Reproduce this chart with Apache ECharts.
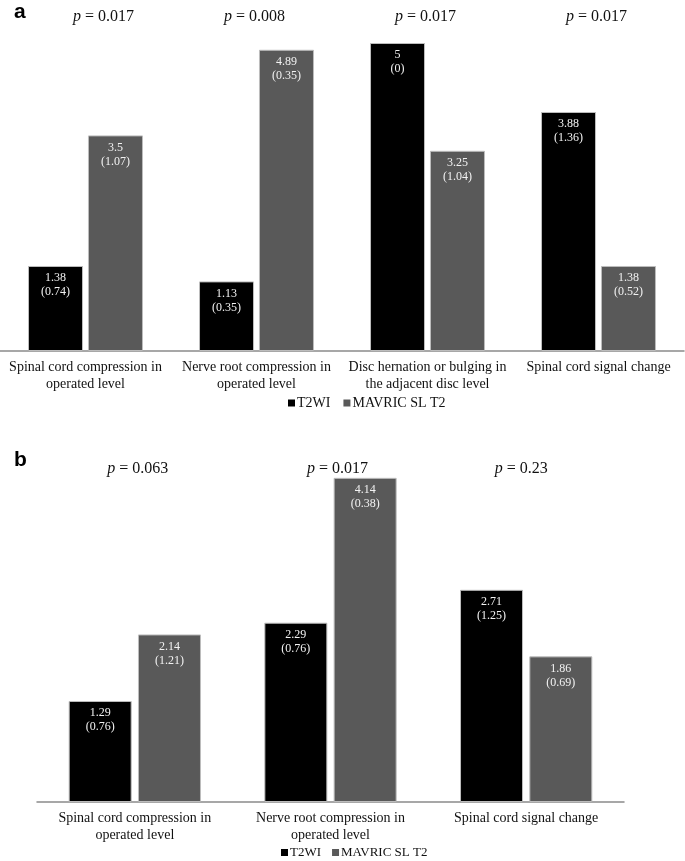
<!DOCTYPE html>
<html>
<head>
<meta charset="utf-8">
<script src="https://cdn.jsdelivr.net/npm/echarts@6/dist/echarts.min.js"></script>
<style>
html,body{margin:0;padding:0;background:#fff;}
#chart{width:685px;height:861px;}
</style>
</head>
<body>
<div id="chart"></div>
<script>
// ---- Data ----
const seriesNames = ['T2WI', 'MAVRIC SL T2'];

const categoriesA = ['Spinal cord compression in\noperated level', 'Nerve root compression in\noperated level', 'Disc hernation or bulging in\nthe adjacent disc level', 'Spinal cord signal change'];
const t2wiA = [1.38, 1.13, 5, 3.88];
const t2wiSdA = ['0.74', '0.35', '0', '1.36'];
const mavricA = [3.5, 4.89, 3.25, 1.38];
const mavricSdA = ['1.07', '0.35', '1.04', '0.52'];
const pValuesA = ['0.017', '0.008', '0.017', '0.017'];

const categoriesB = ['Spinal cord compression in\noperated level', 'Nerve root compression in\noperated level', 'Spinal cord signal change'];
const t2wiB = [1.29, 2.29, 2.71];
const t2wiSdB = ['0.76', '0.76', '1.25'];
const mavricB = [2.14, 4.14, 1.86];
const mavricSdB = ['1.21', '0.38', '0.69'];
const pValuesB = ['0.063', '0.017', '0.23'];

// ---- Chart ----
const SERIF = "'Liberation Serif', 'Times New Roman', serif";
const chart = echarts.init(document.getElementById('chart'), null, {renderer: 'canvas'});

function barLabel(sds) {
  return {
    show: true, position: 'insideTop', distance: 5,
    color: '#f2f2f2', fontFamily: SERIF, fontSize: 12, lineHeight: 14,
    formatter: p => p.value + '\n(' + sds[p.dataIndex] + ')'
  };
}
const axisLineStyle = {show: true, lineStyle: {color: '#8a8a8a', width: 1.5}};
const catLabel = {interval: 0, color: '#111', fontFamily: SERIF, fontSize: 14, lineHeight: 17, margin: 8};
const legendItemStyle = {borderWidth: 0};

const option = {
  animation: false,
  backgroundColor: '#fff',
  grid: [
    {left: 0, right: 1, top: 43, bottom: 510},
    {left: 37, right: 61, top: 410.5, bottom: 59}
  ],
  xAxis: [
    {type: 'category', gridIndex: 0, data: categoriesA, axisLine: axisLineStyle, axisTick: {show: false}, axisLabel: catLabel},
    {type: 'category', gridIndex: 1, data: categoriesB, axisLine: axisLineStyle, axisTick: {show: false}, axisLabel: catLabel}
  ],
  yAxis: [
    {type: 'value', gridIndex: 0, min: 0, max: 5, show: false, splitLine: {show: false}},
    {type: 'value', gridIndex: 1, min: 0, max: 5, show: false, splitLine: {show: false}}
  ],
  legend: [
    {data: seriesNames, left: 288, top: 396, padding: 0, itemWidth: 7, itemHeight: 7, itemGap: 13, icon: 'rect',
     itemStyle: legendItemStyle,
     textStyle: {fontFamily: SERIF, fontSize: 14, color: '#111', padding: [0, 0, 0, -3]}},
    {data: seriesNames, left: 281, top: 846, padding: 0, itemWidth: 7, itemHeight: 7, itemGap: 11, icon: 'rect',
     itemStyle: legendItemStyle,
     textStyle: {fontFamily: SERIF, fontSize: 13, color: '#111', padding: [0, 0, 0, -3]}}
  ],
  series: [
    {name: seriesNames[0], type: 'bar', xAxisIndex: 0, yAxisIndex: 0, data: t2wiA, barWidth: 55, barGap: '9%',
     itemStyle: {color: '#000', borderColor: '#bdbdbd', borderWidth: 1}, label: barLabel(t2wiSdA)},
    {name: seriesNames[1], type: 'bar', xAxisIndex: 0, yAxisIndex: 0, data: mavricA, barWidth: 55, barGap: '9%',
     itemStyle: {color: '#595959', borderColor: '#bdbdbd', borderWidth: 1}, label: barLabel(mavricSdA)},
    {name: seriesNames[0], type: 'bar', xAxisIndex: 1, yAxisIndex: 1, data: t2wiB, barWidth: 63, barGap: '10%',
     itemStyle: {color: '#000', borderColor: '#bdbdbd', borderWidth: 1}, label: barLabel(t2wiSdB)},
    {name: seriesNames[1], type: 'bar', xAxisIndex: 1, yAxisIndex: 1, data: mavricB, barWidth: 63, barGap: '10%',
     itemStyle: {color: '#595959', borderColor: '#bdbdbd', borderWidth: 1}, label: barLabel(mavricSdB)}
  ]
};
chart.setOption(option);

// p-value annotations and panel letters, positioned from the category axes
const graphics = [];
function pText(x, y, val) {
  return {
    type: 'text', x: x, y: y,
    style: {
      text: '{i|p}{r| = ' + val + '}',
      align: 'center', verticalAlign: 'middle',
      rich: {
        i: {fontFamily: SERIF, fontStyle: 'italic', fontSize: 16, fill: '#111'},
        r: {fontFamily: SERIF, fontSize: 16, fill: '#111'}
      }
    }
  };
}
const pShiftA = [18, -2, -2, -2];
const pShiftB = [3, 7, -5];
categoriesA.forEach((c, i) => {
  const x = chart.convertToPixel({xAxisIndex: 0}, c) + pShiftA[i];
  graphics.push(pText(x, 17, pValuesA[i]));
});
categoriesB.forEach((c, i) => {
  const x = chart.convertToPixel({xAxisIndex: 1}, c) + pShiftB[i];
  graphics.push(pText(x, 469, pValuesB[i]));
});
graphics.push({type: 'text', x: 14, y: 12, style: {text: 'a', fontFamily: "'Liberation Sans', Arial, sans-serif", fontWeight: 'bold', fontSize: 21, fill: '#000', verticalAlign: 'middle'}});
graphics.push({type: 'text', x: 14, y: 460, style: {text: 'b', fontFamily: "'Liberation Sans', Arial, sans-serif", fontWeight: 'bold', fontSize: 21, fill: '#000', verticalAlign: 'middle'}});
chart.setOption({graphic: graphics});
</script>
</body>
</html>
